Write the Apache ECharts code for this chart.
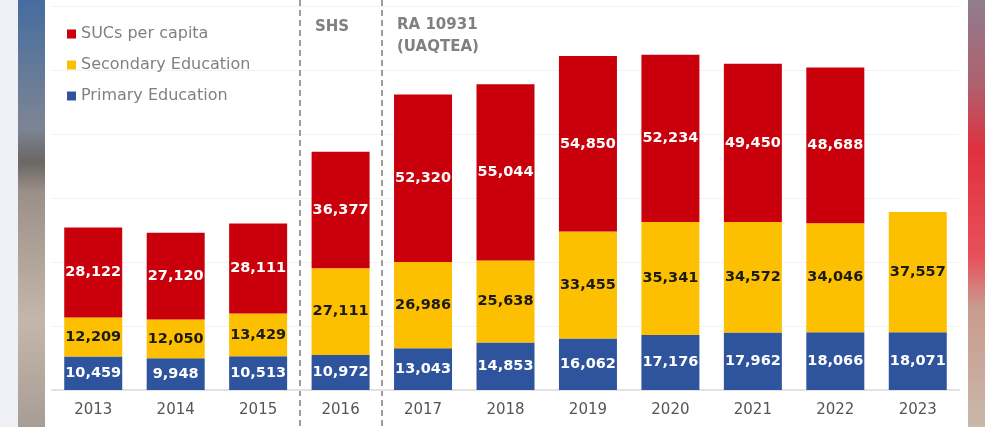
<!DOCTYPE html>
<html>
<head>
<meta charset="utf-8">
<script src="https://cdn.jsdelivr.net/npm/echarts@6/dist/echarts.min.js"></script>
<style>html,body{margin:0;padding:0;background:#fff;}#c{width:985px;height:427px;}</style>
</head>
<body>
<div id="c"></div>
<script>
var years = ['2013','2014','2015','2016','2017','2018','2019','2020','2021','2022','2023'];
var primary = [10459, 9948, 10513, 10972, 13043, 14853, 16062, 17176, 17962, 18066, 18071];
var secondary = [12209, 12050, 13429, 27111, 26986, 25638, 33455, 35341, 34572, 34046, 37557];
var sucs = [28122, 27120, 28111, 36377, 52320, 55044, 54850, 52234, 49450, 48688, null];
var seriesNames = ['SUCs per capita', 'Secondary Education', 'Primary Education'];
var separatorBefore = ['2016', '2017'];

var fmt = function (p) { return p.value == null ? '' : Number(p.value).toLocaleString('en-US'); };
var lbl = function (color) {
  return { show: true, position: 'inside', formatter: fmt, color: color,
    fontFamily: 'DejaVu Sans', fontWeight: 'bold', fontSize: 14.5 };
};

var chart = echarts.init(document.getElementById('c'), null, { renderer: 'canvas' });
chart.setOption({
  animation: false,
  backgroundColor: '#ffffff',
  graphic: [
    { type: 'rect', shape: { x: 0, y: 0, width: 19, height: 427 }, style: { fill: '#eef0f5' }, z: -10, silent: true },
    { type: 'rect', shape: { x: 18, y: 0, width: 27, height: 427 }, z: -10, silent: true,
      style: { fill: new echarts.graphic.LinearGradient(0, 0, 0, 1, [
        { offset: 0, color: '#466c9f' }, { offset: 0.3, color: '#7d8594' }, { offset: 0.38, color: '#6a6663' },
        { offset: 0.45, color: '#9b9088' }, { offset: 0.75, color: '#c4b6ab' }, { offset: 1, color: '#a89d95' }]) } },
    { type: 'rect', shape: { x: 968, y: 0, width: 17, height: 427 }, z: -10, silent: true,
      style: { fill: new echarts.graphic.LinearGradient(0, 0, 0, 1, [
        { offset: 0, color: '#8f7d8e' }, { offset: 0.2, color: '#b0606e' }, { offset: 0.35, color: '#e0303e' },
        { offset: 0.6, color: '#e8505a' }, { offset: 0.72, color: '#c99b8e' }, { offset: 1, color: '#c9b7a8' }]) } },
    { type: 'text', left: 315, top: 20, silent: true,
      style: { text: 'SHS', fill: '#808080', font: 'bold 15px "DejaVu Sans"' } },
    { type: 'text', left: 397, top: 14, silent: true,
      style: { text: 'RA 10931\n(UAQTEA)', fill: '#808080', font: 'bold 15px "DejaVu Sans"', lineHeight: 22 } }
  ],
  legend: {
    orient: 'vertical', left: 62, top: 21, itemWidth: 9, itemHeight: 9, itemGap: 15,
    icon: 'rect', data: seriesNames,
    textStyle: { color: '#808080', fontSize: 16, fontFamily: 'DejaVu Sans' }
  },
  grid: [
    { left: 52, right: 26, top: 6, bottom: 37 },
    { left: 52, right: 26, top: 0, bottom: 0 }
  ],
  xAxis: [
    { type: 'category', data: years, gridIndex: 0,
      axisLine: { show: true, lineStyle: { color: '#e2e2e2', width: 2 } }, axisTick: { show: false },
      axisLabel: { color: '#555', fontSize: 15, fontFamily: 'DejaVu Sans', margin: 13 } },
    { type: 'category', data: years, gridIndex: 1, boundaryGap: true,
      axisLine: { show: false }, axisTick: { show: false }, axisLabel: { show: false },
      splitLine: { show: true, showMinLine: true, showMaxLine: false,
        interval: function (i, v) { return separatorBefore.indexOf(v) >= 0; },
        lineStyle: { color: '#a39a9a', width: 2, type: [6, 4] } } }
  ],
  yAxis: [
    { type: 'value', gridIndex: 0, min: 0, max: 120000, interval: 20000,
      axisLabel: { show: false }, axisLine: { show: false }, axisTick: { show: false },
      splitLine: { lineStyle: { color: '#f2f2f2' } } },
    { type: 'value', gridIndex: 1, min: 0, max: 1, show: false, splitLine: { show: false } }
  ],
  series: [
    { name: 'Primary Education', type: 'bar', stack: 'a', data: primary, barWidth: 58,
      itemStyle: { color: '#2e549e' }, label: lbl('#ffffff'), z: 3 },
    { name: 'Secondary Education', type: 'bar', stack: 'a', data: secondary, barWidth: 58,
      itemStyle: { color: '#fcc000' }, label: lbl('#1c1a14'), z: 3 },
    { name: 'SUCs per capita', type: 'bar', stack: 'a', data: sucs, barWidth: 58,
      itemStyle: { color: '#c9000b' }, label: lbl('#ffffff'), z: 3 }
  ]
});
</script>
</body>
</html>
